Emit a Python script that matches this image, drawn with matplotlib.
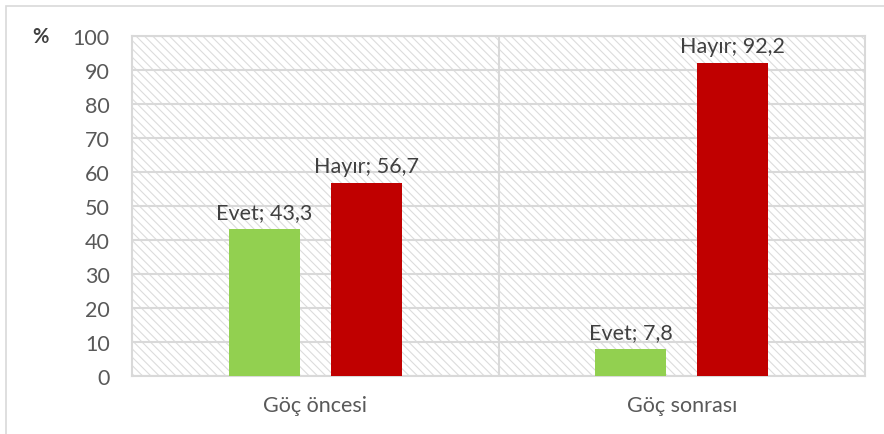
import matplotlib.pyplot as plt
import matplotlib.patches as mpatches
import numpy as np

categories = ['Göç öncesi', 'Göç sonrası']
evet = [43.3, 7.8]
hayir = [56.7, 92.2]
series_names = ['Evet', 'Hayır']

plt.rcParams['font.family'] = ['Lato', 'DejaVu Sans']
plt.rcParams['hatch.linewidth'] = 0.8

GREEN = '#92d050'
RED = '#c00000'
GRID = '#d9d9d9'
TEXT = '#595959'
FS = 15.5

fig = plt.figure(figsize=(8.84, 4.35), dpi=100)
ax = fig.add_axes([132 / 884, 1 - 377 / 435, (865 - 132) / 884, (377 - 37) / 435])

# hatched plot area background
ax.add_patch(mpatches.Rectangle((0, 0), 1, 1, transform=ax.transAxes,
                                facecolor='none', edgecolor='#dcdcdc',
                                hatch='\\\\\\\\', linewidth=0, zorder=0))

x = np.arange(len(categories))
width = 0.194
off = 0.139
b1 = ax.bar(x - off, evet, width, color=GREEN, zorder=3)
b2 = ax.bar(x + off, hayir, width, color=RED, zorder=3)

for bars, vals, name in [(b1, evet, series_names[0]), (b2, hayir, series_names[1])]:
    for rect, v in zip(bars, vals):
        ax.annotate(f'{name}; {str(v).replace(".", ",")}',
                    (rect.get_x() + rect.get_width() / 2, v),
                    xytext=(0, 5), textcoords='offset points',
                    ha='center', va='bottom', fontsize=FS, color='#404040', zorder=4)

ax.set_xlim(-0.5, len(categories) - 0.5)
ax.set_ylim(0, 100)
ax.set_yticks(np.arange(0, 101, 10))
ax.set_xticks(x)
ax.set_xticklabels(categories)
ax.tick_params(axis='both', length=0, labelsize=FS, labelcolor=TEXT)
ax.tick_params(axis='y', pad=16)
ax.tick_params(axis='x', pad=14)

ax.yaxis.grid(True, color=GRID, linewidth=1.5, zorder=1)
ax.set_axisbelow(True)
for i in range(len(categories) - 1):
    ax.axvline(i + 0.5, color=GRID, linewidth=1.5, zorder=1)
for s in ax.spines.values():
    s.set_color(GRID)
    s.set_linewidth(1.5)

fig.text(40 / 884, 1 - 37 / 435, '%', fontsize=FS - 1, fontweight='bold',
         color='#404040', ha='center', va='center')

# outer chart border
fig.add_artist(mpatches.Rectangle((6 / 884, -0.01), 1.0, 1 - 7 / 435 + 0.01,
                                  transform=fig.transFigure, fill=False,
                                  edgecolor=GRID, linewidth=1.2))

fig.savefig('out.png', dpi=100)
